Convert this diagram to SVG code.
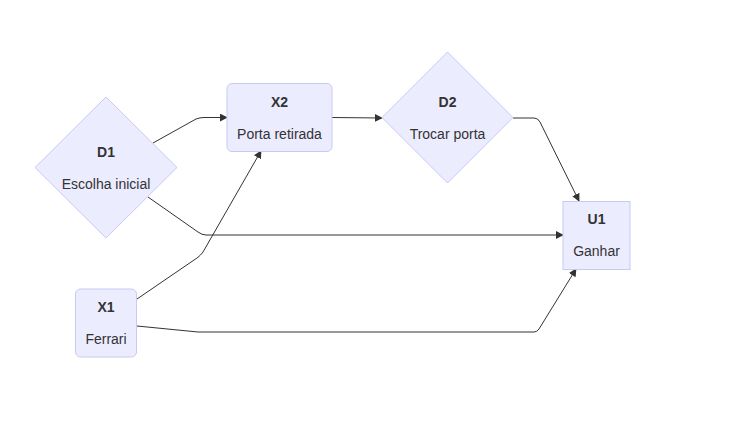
<svg xmlns="http://www.w3.org/2000/svg" width="748" height="427" viewBox="0 0 748 427">
<style>
.node{fill:#ECECFF;stroke:#c9c9f3;stroke-width:1}
.t{font-family:"Liberation Sans",Arial,sans-serif;font-size:14px;fill:#333;text-anchor:middle}
.b{font-weight:bold}
.e{fill:none;stroke:#333;stroke-width:1}
</style>
<defs>
<marker id="arr" viewBox="0 0 10 10" refX="9" refY="5" markerWidth="8" markerHeight="8" markerUnits="userSpaceOnUse" orient="auto">
<path d="M0,0 L10,5 L0,10 z" fill="#333"/>
</marker>
</defs>
<rect width="748" height="427" fill="#fff"/>
<g id="connectors">
<path class="e" d="M153,143 L196,119 Q200,117.5 204,117.5 L227,117.5" marker-end="url(#arr)"/>
<path class="e" d="M148,197 L198,232 Q202,235 206,235 L563,235" marker-end="url(#arr)"/>
<path class="e" d="M137,299 L197,258 Q201,255 203,252 L261,151" marker-end="url(#arr)"/>
<path class="e" d="M137,326 L198,332 L202,332 L534,332 Q537,332 539,329 L576,269" marker-end="url(#arr)"/>
<path class="e" d="M332,117.5 L382,118" marker-end="url(#arr)"/>
<path class="e" d="M513,118 L534,118 Q538,118 540,122 L579,201" marker-end="url(#arr)"/>
</g>
<g id="D1">
<polygon class="node" points="106,97 177,167.5 106,238 35,167.5"/>
<text class="t b" x="106" y="157">D1</text>
<text class="t" x="106" y="189">Escolha inicial</text>
</g>
<g id="X2">
<rect class="node" x="227" y="83.5" width="105" height="68" rx="5"/>
<text class="t b" x="279.5" y="107">X2</text>
<text class="t" x="279.5" y="139">Porta retirada</text>
</g>
<g id="D2">
<polygon class="node" points="447.5,52 513,117.5 447.5,183 382,117.5"/>
<text class="t b" x="447.5" y="107">D2</text>
<text class="t" x="447.5" y="139">Trocar porta</text>
</g>
<g id="X1">
<rect class="node" x="75.5" y="289" width="61" height="68" rx="5"/>
<text class="t b" x="106" y="312">X1</text>
<text class="t" x="106" y="344">Ferrari</text>
</g>
<g id="U1">
<rect class="node" x="563" y="201.5" width="67" height="68"/>
<text class="t b" x="596.5" y="224">U1</text>
<text class="t" x="596.5" y="256">Ganhar</text>
</g>
</svg>
